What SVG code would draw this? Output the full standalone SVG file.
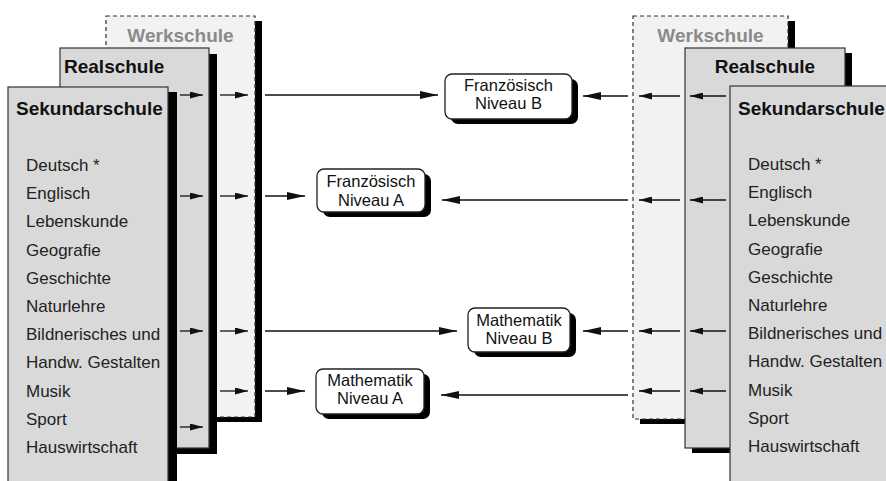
<svg xmlns="http://www.w3.org/2000/svg" width="886" height="481" viewBox="0 0 886 481">
<style>
.werk{fill:#f2f2f2;stroke:#333;stroke-width:1.2;stroke-dasharray:4 3}
.school{fill:#d9d9d9;stroke:#333;stroke-width:1.2}
.shadow{fill:#000}
.title{font-family:"Liberation Sans",Arial,sans-serif;font-weight:bold;font-size:19px;fill:#111}
.wtitle{fill:#8a8a8a}
.subj{font-family:"Liberation Sans",Arial,sans-serif;font-size:17px;fill:#222}
.box{fill:#fff;stroke:#222;stroke-width:1.3}
.boxt{font-family:"Liberation Sans",Arial,sans-serif;font-size:16.5px;fill:#111;text-anchor:middle}
.conn{stroke:#111;stroke-width:1.3;fill:none}
.s{marker-end:url(#hs)}
.l{marker-end:url(#hl)}
</style>
<defs>
<marker id="hs" markerWidth="13" markerHeight="7" refX="13" refY="3.5" orient="auto" markerUnits="userSpaceOnUse"><path d="M0,0 L13,3.5 L0,7 z" fill="#111"/></marker>
<marker id="hl" markerWidth="18" markerHeight="8" refX="18" refY="4" orient="auto" markerUnits="userSpaceOnUse"><path d="M0,0 L18,4 L0,8 z" fill="#111"/></marker>
</defs>

<g id="werkschule-links">
<rect class="shadow" x="113" y="21" width="149" height="401"/>
<rect class="werk" x="106" y="16" width="149" height="401"/>
<text class="title wtitle" x="180.5" y="42" text-anchor="middle">Werkschule</text>
</g>
<g id="realschule-links">
<rect class="shadow" x="68" y="54" width="149" height="400"/>
<rect class="school" x="60" y="48" width="149" height="400"/>
<text class="title" x="64" y="73">Realschule</text>
</g>
<g id="sekundarschule-links">
<rect class="shadow" x="17" y="92" width="160" height="400"/>
<rect class="school" x="8" y="87" width="160" height="400"/>
<text class="title" x="16" y="115">Sekundarschule</text>
<text class="subj" x="26" y="171">Deutsch *</text>
<text class="subj" x="26" y="199.2">Englisch</text>
<text class="subj" x="26" y="227.4">Lebenskunde</text>
<text class="subj" x="26" y="255.6">Geografie</text>
<text class="subj" x="26" y="283.8">Geschichte</text>
<text class="subj" x="26" y="312">Naturlehre</text>
<text class="subj" x="26" y="340.2">Bildnerisches und</text>
<text class="subj" x="26" y="368.4">Handw. Gestalten</text>
<text class="subj" x="26" y="396.6">Musik</text>
<text class="subj" x="26" y="424.8">Sport</text>
<text class="subj" x="26" y="453">Hauswirtschaft</text>
</g>

<g id="werkschule-rechts">
<rect class="shadow" x="640" y="21" width="155" height="403"/>
<rect class="werk" x="633" y="16" width="155" height="403"/>
<text class="title wtitle" x="710.5" y="42" text-anchor="middle">Werkschule</text>
</g>
<g id="realschule-rechts">
<rect class="shadow" x="692" y="53" width="160" height="400"/>
<rect class="school" x="685" y="48" width="160" height="400"/>
<text class="title" x="765" y="73" text-anchor="middle">Realschule</text>
</g>
<g id="sekundarschule-rechts">
<rect class="school" x="730" y="86" width="170" height="420"/>
<text class="title" x="738" y="115">Sekundarschule</text>
<text class="subj" x="748" y="170">Deutsch *</text>
<text class="subj" x="748" y="198.2">Englisch</text>
<text class="subj" x="748" y="226.4">Lebenskunde</text>
<text class="subj" x="748" y="254.6">Geografie</text>
<text class="subj" x="748" y="282.8">Geschichte</text>
<text class="subj" x="748" y="311">Naturlehre</text>
<text class="subj" x="748" y="339.2">Bildnerisches und</text>
<text class="subj" x="748" y="367.4">Handw. Gestalten</text>
<text class="subj" x="748" y="395.6">Musik</text>
<text class="subj" x="748" y="423.8">Sport</text>
<text class="subj" x="748" y="452">Hauswirtschaft</text>
</g>

<g id="franzoesisch-b">
<rect class="shadow" x="451" y="79" width="127" height="45" rx="7"/>
<rect class="box" x="445" y="74" width="127" height="45" rx="7"/>
<text class="boxt" x="508.5" y="91">Französisch</text>
<text class="boxt" x="508.5" y="109">Niveau B</text>
</g>
<g id="franzoesisch-a">
<rect class="shadow" x="323" y="174" width="108" height="43" rx="7"/>
<rect class="box" x="317" y="169" width="108" height="43" rx="7"/>
<text class="boxt" x="371" y="187">Französisch</text>
<text class="boxt" x="371" y="206">Niveau A</text>
</g>
<g id="mathematik-b">
<rect class="shadow" x="474" y="313" width="102" height="44" rx="7"/>
<rect class="box" x="468" y="308" width="102" height="44" rx="7"/>
<text class="boxt" x="519" y="326">Mathematik</text>
<text class="boxt" x="519" y="344">Niveau B</text>
</g>
<g id="mathematik-a">
<rect class="shadow" x="322" y="374" width="108" height="45" rx="7"/>
<rect class="box" x="316" y="369" width="108" height="45" rx="7"/>
<text class="boxt" x="370" y="386">Mathematik</text>
<text class="boxt" x="370" y="404">Niveau A</text>
</g>

<g id="connectors">
<line class="conn s" x1="180" y1="95" x2="203" y2="95"/>
<line class="conn s" x1="180" y1="196" x2="203" y2="196"/>
<line class="conn s" x1="180" y1="331" x2="203" y2="331"/>
<line class="conn s" x1="180" y1="427" x2="203" y2="427"/>
<line class="conn s" x1="220" y1="95" x2="248" y2="95"/>
<line class="conn s" x1="220" y1="196" x2="248" y2="196"/>
<line class="conn s" x1="220" y1="331" x2="248" y2="331"/>
<line class="conn s" x1="220" y1="391" x2="248" y2="391"/>
<line class="conn l" x1="265" y1="95" x2="438" y2="95"/>
<line class="conn l" x1="265" y1="196" x2="305" y2="196"/>
<line class="conn l" x1="265" y1="331" x2="457" y2="331"/>
<line class="conn l" x1="265" y1="391" x2="305" y2="391"/>
<line class="conn s" x1="680" y1="96" x2="639" y2="96"/>
<line class="conn s" x1="680" y1="200" x2="639" y2="200"/>
<line class="conn s" x1="680" y1="331" x2="639" y2="331"/>
<line class="conn s" x1="680" y1="391" x2="639" y2="391"/>
<line class="conn s" x1="726" y1="96" x2="690" y2="96"/>
<line class="conn s" x1="726" y1="200" x2="690" y2="200"/>
<line class="conn s" x1="726" y1="331" x2="690" y2="331"/>
<line class="conn s" x1="726" y1="391" x2="690" y2="391"/>
<line class="conn l" x1="628" y1="96" x2="583" y2="96"/>
<line class="conn l" x1="628" y1="200" x2="442" y2="200"/>
<line class="conn l" x1="628" y1="331" x2="583" y2="331"/>
<line class="conn l" x1="628" y1="395" x2="441" y2="395"/>
</g>
</svg>
